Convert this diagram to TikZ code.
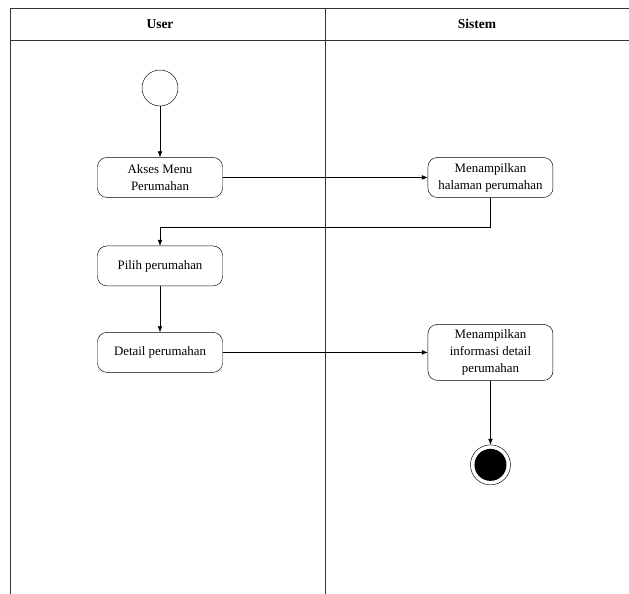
\documentclass[tikz,border=0pt]{standalone}
\usepackage{fontspec}
\setmainfont{Liberation Serif}
\usetikzlibrary{arrows.meta,positioning}

\begin{document}
\begin{tikzpicture}[
    node distance=1.5cm and 6.15cm,
    act/.style={rectangle, rounded corners=8pt, draw, font=\fontsize{11}{14.5}\selectfont,
                minimum width=3.75cm, minimum height=1.2cm, align=center},
    hdr/.style={font=\fontsize{11.5}{14.5}\selectfont\bfseries},
    arr/.style={-{Latex[length=5pt,width=4pt]}},
    lane/.style={draw=black!80, line width=0.6pt}
  ]
  \useasboundingbox (0,0) rectangle (18.87,-17.82);
  % swimlanes
  \draw[lane] (0.3,-17.82) |- (18.87,-0.24);
  \draw[lane] (0.3,-1.2) -- (18.87,-1.2);
  \draw[lane] (9.75,-0.24) -- (9.75,-17.82);
  \node[hdr] (user) at (4.8,-0.72) {User};
  \node[hdr] (sistem) at (14.31,-0.72) {Sistem};
  % activities
  \node[circle, draw, minimum size=1.08cm] (start) at (4.8,-2.64) {};
  \node[act, below=1.53cm of start] (akses) {Akses Menu\\Perumahan};
  \node[act, right=of akses] (tampil) {Menampilkan\\halaman perumahan};
  \node[act, below=1.44cm of akses] (pilih) {Pilih perumahan};
  \node[act, below=1.38cm of pilih] (detail) {Detail perumahan};
  \node[act, right=of detail, minimum height=1.68cm] (info) {Menampilkan\\informasi detail\\perumahan};
  \node[circle, draw, minimum size=1.2cm, below=1.92cm of info,
        path picture={\fill (path picture bounding box.center) circle (0.48cm);}] (fin) {};
  \foreach \a/\b in {start/akses,akses/tampil,pilih/detail,detail/info,info/fin}
    \draw[arr] (\a) -- (\b);
  \draw[arr] (tampil.south) -- ++(0,-0.9) -| (pilih.north);
\end{tikzpicture}
\end{document}
